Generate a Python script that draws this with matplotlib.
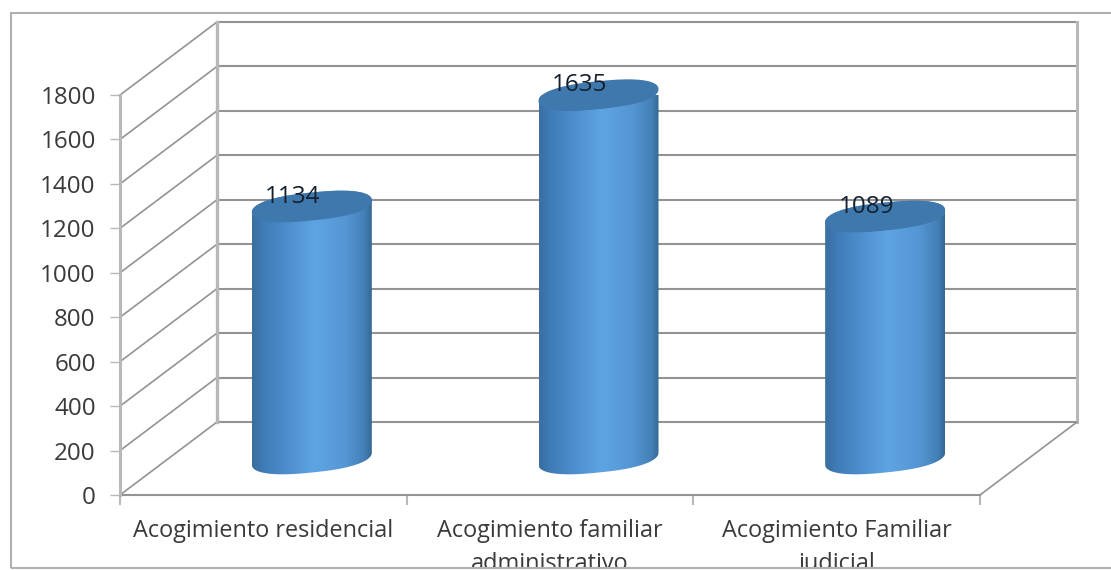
import numpy as np
import matplotlib
matplotlib.use("Agg")
import matplotlib.pyplot as plt
from matplotlib.colors import LinearSegmentedColormap
from matplotlib.patches import Polygon, Rectangle

categories = ["Acogimiento residencial", "Acogimiento familiar\nadministrativo", "Acogimiento Familiar\njudicial"]
values = [1134, 1635, 1089]
y_ticks = [0, 200, 400, 600, 800, 1000, 1200, 1400, 1600, 1800]

W, H = 1111, 570
# front plane of the 3d box, in pixels
LEFT, RIGHT, TOP, BOTTOM = 120, 980, 95, 495
PX_X = 3 / (RIGHT - LEFT)     # category units per pixel
PX_Y = 1800 / (BOTTOM - TOP)  # value units per pixel
DEPTH_X = 97 * PX_X
DEPTH_Y = 73 * PX_Y

plt.rcParams["font.family"] = ["Open Sans", "DejaVu Sans"]

fig = plt.figure(figsize=(W / 100, H / 100), dpi=100)
ax = fig.add_axes([LEFT / W, 1 - BOTTOM / H, (RIGHT - LEFT) / W, (BOTTOM - TOP) / H])
ax.patch.set_visible(False)
for s in ax.spines.values():
    s.set_visible(False)

x0, x1 = -0.5, 2.5
grey = "#939393"
wall = "#b8b8b8"

# back wall and floor
for v in y_ticks:
    ax.plot([x0 + DEPTH_X, x1 + DEPTH_X], [v + DEPTH_Y, v + DEPTH_Y], color=grey, lw=1.5, clip_on=False, zorder=1)
    ax.plot([x0, x0 + DEPTH_X], [v, v + DEPTH_Y], color=grey, lw=1.2, clip_on=False, zorder=1)
ax.plot([x0 + DEPTH_X] * 2, [DEPTH_Y, 1800 + DEPTH_Y], color=wall, lw=2.4, clip_on=False, zorder=1)
ax.plot([x1 + DEPTH_X] * 2, [DEPTH_Y, 1800 + DEPTH_Y], color=wall, lw=2.2, clip_on=False, zorder=1)
ax.plot([x1, x1 + DEPTH_X], [0, DEPTH_Y], color=grey, lw=1.2, clip_on=False, zorder=1)
ax.plot([x0, x1], [0, 0], color=grey, lw=1.5, clip_on=False, zorder=2)
ax.plot([x0, x0], [0, 1800], color=wall, lw=2.2, clip_on=False, zorder=2)

# cylinders
cmap = LinearSegmentedColormap.from_list("cyl", [
    (0.0, "#3a6f9f"), (0.1, "#3f7cb8"), (0.35, "#5293d3"), (0.52, "#5ea4e3"),
    (0.78, "#5596d4"), (0.94, "#4480b6"), (1.0, "#356896")])
ramp = np.linspace(0, 1, 256).reshape(1, -1)
half_w = 60 * PX_X
half_h = 14 * PX_Y
shear = 6 * PX_Y


def ring(cx, cy, t):
    # slightly squarer than an ellipse, tipped up on the right
    c = np.sign(np.cos(t)) * np.abs(np.cos(t)) ** 0.8
    s = np.sign(np.sin(t)) * np.abs(np.sin(t)) ** 0.9
    return cx + half_w * c, cy + half_h * s + shear * c


for i, val in enumerate(values):
    cx = i + DEPTH_X / 2
    base = DEPTH_Y / 2
    top = val + DEPTH_Y / 2
    bx, by = ring(cx, base, np.linspace(np.pi, 2 * np.pi, 80))
    tx, ty = ring(cx, top, np.linspace(0, np.pi, 80))
    body = Polygon(np.column_stack([np.r_[bx, tx], np.r_[by, ty]]), closed=True,
                   transform=ax.transData, facecolor="none", edgecolor="none")
    ax.add_patch(body)
    im = ax.imshow(ramp, cmap=cmap, aspect="auto", interpolation="bilinear", zorder=3,
                   extent=[cx - half_w, cx + half_w, base - 200, top + 200])
    im.set_clip_path(body)
    ex, ey = ring(cx, top, np.linspace(0, 2 * np.pi, 160))
    ax.fill(ex, ey, color="#3f78ac", lw=0, zorder=4, clip_on=False)
    ax.annotate(str(val), xy=(cx, top), xytext=(-19, 10), textcoords="offset pixels",
                ha="center", va="center", fontsize=17.5, color="#14202e", zorder=5, annotation_clip=False)

ax.set_xlim(x0, x1)
ax.set_ylim(0, 1800)

ax.set_yticks(y_ticks)
ax.set_xticks([-0.5, 0.5, 1.5, 2.5])
ax.set_xticklabels([])
ax.set_xticks([0, 1, 2], minor=True)
ax.set_xticklabels(categories, minor=True, fontsize=16.9, color="#3a3a3a", linespacing=1.48)
ax.tick_params(axis="y", length=7, width=1, color=wall, labelsize=17.4, labelcolor="#3a3a3a", pad=10.5)
ax.tick_params(axis="x", which="major", length=7, width=1.5, color=wall)
ax.tick_params(axis="x", which="minor", length=0, pad=17.5)

# chart border runs off the right edge, the long labels are cut by it
frame = Rectangle((11 / W, 1 - 568 / H), 1120 / W, 555 / H, transform=fig.transFigure,
                  facecolor="none", edgecolor="#b0b0b0", lw=1.5, zorder=10)
fig.add_artist(frame)
for t in ax.get_xticklabels(minor=True):
    t.set_clip_path(frame)
    t.set_clip_on(True)

fig.savefig("out.png", dpi=100)
